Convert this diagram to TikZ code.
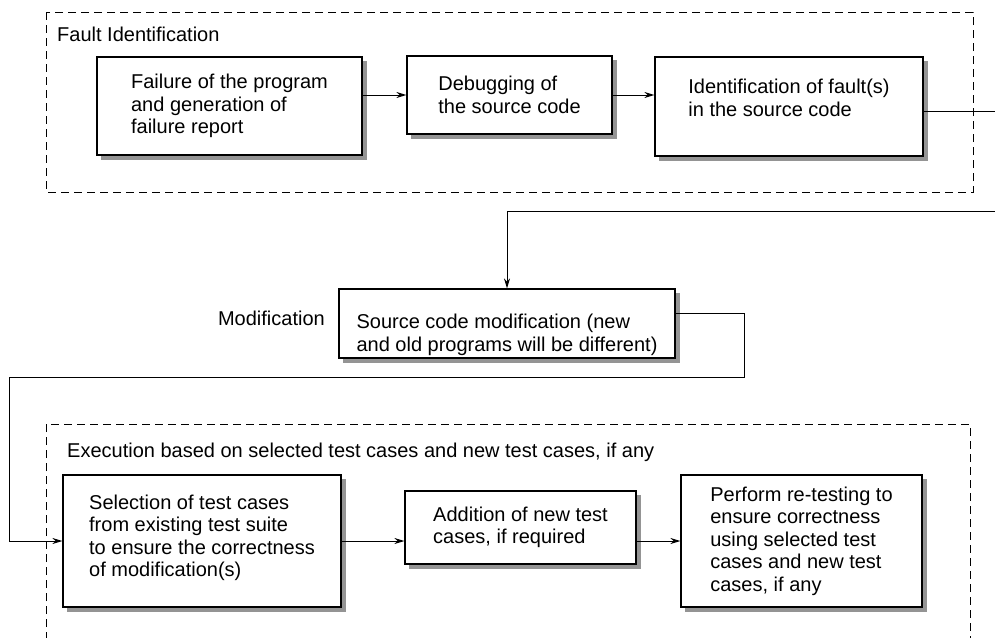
\documentclass[tikz,border=0pt]{standalone}
\usepackage{fontspec}
\setmainfont{Liberation Sans}
\usetikzlibrary{arrows.meta,backgrounds}

\begin{document}
\begin{tikzpicture}[
  x=1pt, y=-1pt,
  font=\fontsize{20}{22.5}\selectfont,
  box/.style={rectangle, draw, line width=1.2pt, fill=white, align=left, inner sep=0pt},
  boxshade/.style={fill=black!42},
  group/.style={line width=1pt, dash pattern=on 8pt off 5pt},
  tag/.style={inner sep=0pt},
  line/.style={line width=1pt},
  arrow/.style={-{Stealth[length=10pt,width=6pt]}, line width=1pt}
]
\useasboundingbox (0,0) rectangle (995,637);

% Fault identification group
\draw[group] (46,12) rectangle (973,192);
\node[tag, anchor=west] (faultlbl) at (57,34) {Fault Identification};
\node[box, minimum width=265, minimum height=98] (failure) at (229.5,106) {Failure of the program\\and generation of\\failure report};
\node[box, minimum width=205, minimum height=78] (debug) at (509.5,95) {Debugging of\\the source code};
\node[box, minimum width=268, minimum height=99] (ident) at (789,106.5) {Identification of fault(s)\\in the source code\\[-5.5pt]};

% Modification
\node[tag, anchor=east] (modlbl) at (325,318) {Modification};
\node[box, minimum width=336, minimum height=69] (modify) at (507,323.5) {\mbox{}\\[14.5pt]Source code modification (new\\and old programs will be different)};

% Execution group
\draw[group] (46,640) -- (46,424) -- (970,424) -- (970,640);
\node[tag, anchor=west] (execlbl) at (67,452) {Execution based on selected test cases and new test cases, if any};
\node[box, minimum width=278, minimum height=132] (select) at (202,541) {Selection of test cases\\from existing test suite\\to ensure the correctness\\of modification(s)\\[-11.5pt]};
\node[box, minimum width=231, minimum height=73] (addtest) at (520.5,527.5) {Addition of new test\\cases, if required};
\node[box, minimum width=241, minimum height=132] (retest) at (801.5,541) {Perform re-testing to\\ensure correctness\\using selected test\\cases and new test\\cases, if any};

% Shadows behind the boxes
\begin{scope}[on background layer]
\foreach \bx in {failure,debug,ident,modify,select,addtest,retest}
  \fill[boxshade] ([xshift=4.5pt,yshift=-4.5pt]\bx.south west) rectangle ([xshift=4.5pt,yshift=-4.5pt]\bx.north east);
\end{scope}

% Connectors
\coordinate (exitA) at (995,111);
\coordinate (entryA) at (995,211);
\coordinate (turnA) at (744,377);
\coordinate (turnB) at (9,377);

\draw[arrow] (failure.east |- debug.west) -- (debug.west);
\draw[arrow] (debug.east) -- (ident.west |- debug.east);
\draw[line] (ident.east |- exitA) -- (exitA);
\draw[arrow] (entryA) -- (modify.north |- entryA) -- (modify.north);
\draw[arrow] ([yshift=10.5pt]modify.east) -| (turnA) -- (turnB) |- (select.west);
\draw[arrow] (select.east) -- (addtest.west |- select.east);
\draw[arrow] (addtest.east |- select.east) -- (retest.west);
\end{tikzpicture}
\end{document}
